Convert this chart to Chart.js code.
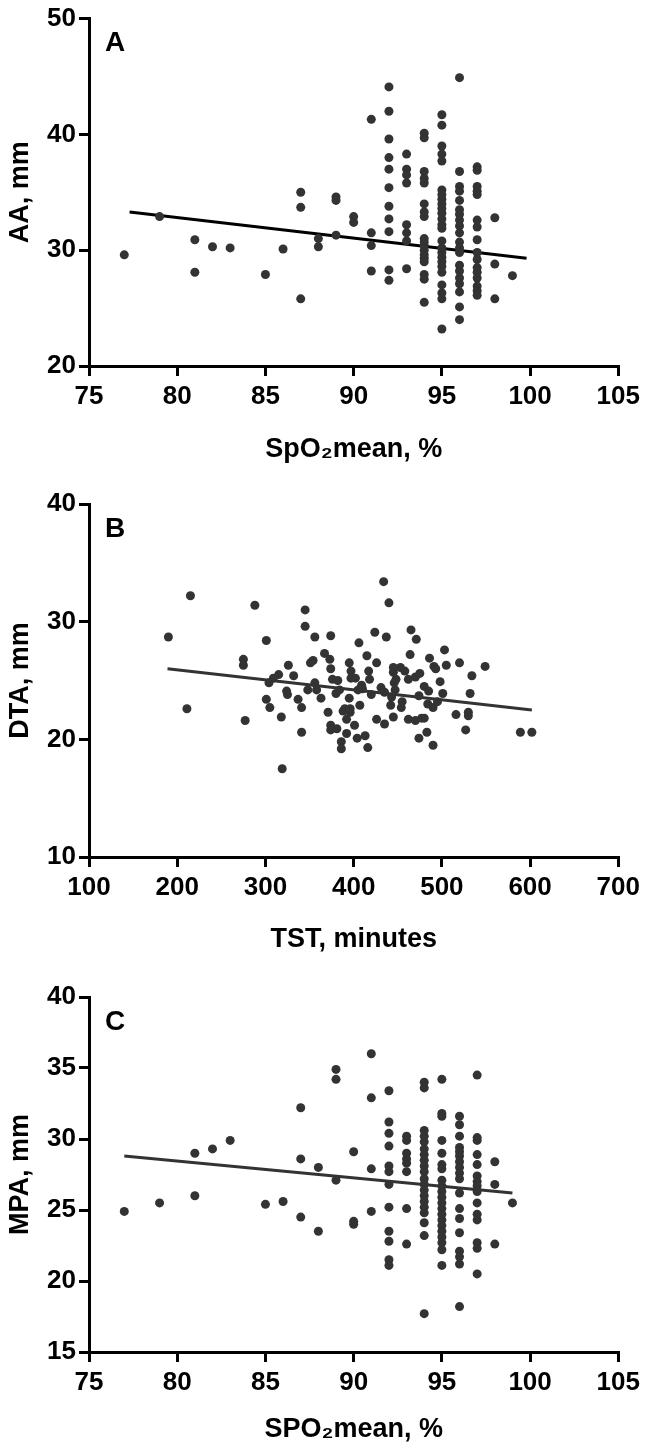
<!DOCTYPE html>
<html>
<head>
<meta charset="utf-8">
<script src="https://cdn.jsdelivr.net/npm/chart.js@4"></script>
<style>
  body { margin: 0; background: #fff; }
  .panel { position: absolute; left: 0; width: 645px; }
</style>
</head>
<body>
<div class="panel" style="top:0;height:470px"><canvas id="chartA"></canvas></div>
<div class="panel" style="top:470px;height:490px"><canvas id="chartB"></canvas></div>
<div class="panel" style="top:960px;height:490px"><canvas id="chartC"></canvas></div>
<script>
// Panel A: AA vs SpO2mean, grouped by integer SpO2 column
const aCols = [77, 79, 81, 82, 83, 85, 86, 87, 88, 89, 90, 91, 92, 93, 94, 95, 96, 97, 98, 99];
const aVals = [
    [29.6], [32.9], [30.9, 28.1], [30.3], [30.2], [27.9], [30.1],
    [35.0, 33.7, 25.8], [31.0, 30.3], [34.6, 34.3, 31.3], [32.9, 32.4],
    [41.3, 31.5, 30.4, 28.2],
    [44.1, 42.0, 39.6, 38.0, 37.0, 35.4, 33.8, 32.7, 31.6, 28.3, 27.4],
    [38.3, 37.0, 36.5, 35.8, 32.2, 31.5, 30.8, 28.4],
    [40.1, 39.7, 36.8, 36.2, 35.8, 34.0, 33.3, 32.9, 31.0, 30.7, 30.4, 30.0, 29.6, 29.3, 29.0, 27.9, 27.5, 25.5],
    [41.7, 40.8, 39.0, 38.3, 37.7, 35.2, 34.8, 34.4, 34.0, 33.6, 33.2, 32.7, 32.2, 31.9, 30.8, 30.2, 29.8, 29.4, 29.0, 28.6, 28.1, 27.0, 26.3, 25.8, 23.2],
    [44.9, 36.8, 35.5, 35.1, 34.3, 33.5, 33.1, 32.6, 32.1, 31.5, 30.7, 30.2, 29.8, 28.7, 28.2, 27.6, 27.1, 26.4, 25.1, 24.0],
    [37.2, 36.9, 35.5, 35.1, 34.8, 32.6, 32.0, 30.9, 29.8, 29.2, 28.5, 28.1, 27.6, 26.9, 26.5, 26.1],
    [32.8, 28.8, 25.8], [27.8]
];
const aFitX = [77.3, 99.8];
const aFitY = [33.3, 29.3];

// Panel B: DTA vs TST
const bX = [190, 215, 211, 288, 275, 275, 277, 301, 301, 305, 304, 309, 315, 318, 319, 326, 324, 325, 332, 337,
    341, 341, 345, 345, 348, 351, 354, 356, 356, 358, 363, 367, 371, 373, 374, 374, 374, 374, 376, 381,
    382, 380, 384, 386, 386, 388, 390, 392, 392, 395, 395, 397, 397, 396, 396, 402, 401, 404, 405, 406,
    407, 409, 410, 413, 415, 416, 417, 418, 420, 424, 426, 426, 431, 434, 437, 435, 435, 440, 442, 443,
    445, 445, 446, 447, 445, 448, 453, 454, 455, 458, 462, 462, 464, 465, 471, 470, 475, 474, 474, 470,
    477, 480, 480, 483, 485, 484, 486, 490, 490, 491, 493, 495, 498, 501, 503, 505, 516, 520, 527, 530,
    530, 532, 534, 549, 589, 602];
const bY = [28.7, 32.2, 22.6, 31.4, 26.8, 26.3, 21.6, 28.4, 23.4, 22.7, 24.8, 25.2, 25.5, 21.9, 17.5, 26.3, 24.1, 23.8, 25.4, 23.4,
    22.7, 20.6, 31.0, 29.6, 24.2, 26.5, 26.7, 28.7, 24.8, 24.2, 23.5, 27.3, 22.3, 26.8, 28.8, 26.0, 21.2, 20.8, 25.1, 20.9,
    25.0, 23.9, 24.2, 19.8, 19.2, 22.4, 22.6, 21.7, 20.5, 26.5, 23.5, 25.8, 25.2, 22.6, 22.3, 25.2, 21.2, 20.1, 24.2, 28.2,
    22.9, 24.6, 24.3, 20.3, 27.1, 19.3, 25.8, 25.1, 23.8, 29.1, 26.5, 21.7, 24.4, 33.4, 28.7, 21.3, 24.0, 31.6, 22.9, 23.6,
    25.7, 26.1, 24.8, 24.2, 21.9, 25.1, 26.1, 22.7, 23.2, 25.8, 25.1, 21.7, 27.2, 29.3, 28.5, 25.3, 25.6, 23.7, 20.1, 21.6,
    21.8, 21.8, 24.5, 20.6, 24.1, 23.0, 26.9, 19.5, 22.7, 26.2, 26.0, 23.2, 24.9, 23.9, 27.6, 26.3, 22.1, 26.5, 20.8, 22.3,
    22.0, 23.9, 25.4, 26.2, 20.6, 20.6];
const bFitX = [189, 602];
const bFitY = [26.0, 22.5];

// Panel C: MPA vs SpO2mean
const cCols = [77, 79, 81, 82, 83, 85, 86, 87, 88, 89, 90, 91, 92, 93, 94, 95, 96, 97, 98, 99];
const cVals = [
    [24.9], [25.5], [29.0, 26.0], [29.3], [29.9], [25.4], [25.6],
    [32.2, 28.6, 24.5], [28.0, 23.5], [34.9, 34.2, 27.1], [29.1, 24.2, 24.0],
    [36.0, 32.9, 27.9, 24.9],
    [33.4, 31.2, 30.4, 29.5, 28.1, 27.7, 26.8, 25.2, 23.5, 22.8, 21.5, 21.1],
    [30.2, 29.9, 29.0, 28.6, 28.3, 27.7, 25.1, 22.6],
    [34.0, 33.6, 30.6, 30.2, 29.8, 29.3, 28.9, 28.5, 28.1, 27.7, 27.2, 26.8, 26.4, 26.0, 25.6, 25.2, 24.8, 24.1, 23.2, 17.7],
    [34.2, 31.8, 31.6, 29.9, 29.0, 28.2, 27.9, 27.1, 26.7, 26.3, 25.9, 25.5, 25.1, 24.7, 24.3, 23.9, 23.5, 23.1, 22.7, 22.2, 21.1],
    [31.6, 31.0, 30.2, 29.4, 29.1, 28.8, 28.4, 28.0, 27.6, 27.2, 26.2, 25.1, 24.4, 23.4, 22.1, 21.7, 21.2, 18.2],
    [34.5, 30.1, 29.9, 28.9, 28.2, 27.4, 27.0, 26.7, 26.3, 25.5, 24.7, 24.3, 22.7, 22.3, 20.5],
    [28.4, 26.8, 22.6], [25.5]
];
const cFitX = [77, 99];
const cFitY = [28.8, 26.2];

const FONT = 'Liberation Sans, Arial, sans-serif';

function colsToPoints(cols, vals) {
    const pts = [];
    cols.forEach((x, i) => vals[i].forEach(y => pts.push({ x: x, y: y })));
    return pts;
}

function pairsToPoints(xs, ys) {
    return xs.map((x, i) => ({ x: x, y: ys[i] }));
}

const panelLetter = {
    id: 'panelLetter',
    afterDraw(chart, args, opts) {
        const ctx = chart.ctx;
        ctx.save();
        ctx.fillStyle = '#000';
        ctx.font = 'bold 28px ' + FONT;
        ctx.textBaseline = 'top';
        ctx.fillText(opts.text, chart.chartArea.left + 16, chart.chartArea.top + 11);
        ctx.restore();
    }
};

function makeChart(id, cfg) {
    const axisCommon = {
        border: { color: '#000', width: 3 },
        grid: { drawOnChartArea: false, drawTicks: true, tickLength: 10, color: '#000', lineWidth: 3 },
        ticks: { color: '#000', font: { family: FONT, size: 26, weight: 'bold' }, padding: 3 }
    };
    new Chart(document.getElementById(id), {
        type: 'scatter',
        data: {
            datasets: [{
                data: cfg.points,
                pointRadius: 4.5,
                pointBackgroundColor: '#333',
                pointBorderWidth: 0
            }, {
                type: 'line',
                data: cfg.fit,
                borderColor: cfg.lineColor,
                borderWidth: 3,
                pointRadius: 0,
                fill: false
            }]
        },
        options: {
            responsive: true,
            maintainAspectRatio: false,
            animation: false,
            layout: { padding: { top: cfg.padTop, right: 23, left: 0, bottom: 0 } },
            plugins: {
                legend: { display: false },
                tooltip: { enabled: false },
                panelLetter: { text: cfg.letter }
            },
            scales: {
                x: {
                    ...axisCommon,
                    type: 'linear',
                    min: cfg.xMin, max: cfg.xMax,
                    ticks: { ...axisCommon.ticks, stepSize: cfg.xStep, padding: 5 },
                    title: { display: true, text: cfg.xTitle, color: '#000', font: { family: FONT, size: 27, weight: 'bold' }, padding: { top: 6 } },
                    afterFit: s => { s.height = cfg.xHeight; }
                },
                y: {
                    ...axisCommon,
                    min: cfg.yMin, max: cfg.yMax,
                    ticks: { ...axisCommon.ticks, stepSize: cfg.yStep },
                    title: { display: true, text: cfg.yTitle, color: '#000', font: { family: FONT, size: 27, weight: 'bold' }, padding: { bottom: 2 } },
                    afterFit: s => { s.width = 89; }
                }
            }
        },
        plugins: [panelLetter]
    });
}

makeChart('chartA', {
    points: colsToPoints(aCols, aVals), fit: pairsToPoints(aFitX, aFitY), lineColor: '#000',
    letter: 'A', padTop: 10, xHeight: 104,
    xMin: 75, xMax: 105, xStep: 5, yMin: 20, yMax: 50, yStep: 10,
    xTitle: 'SpO₂mean, %', yTitle: 'AA, mm'
});
makeChart('chartB', {
    points: pairsToPoints(bX, bY), fit: pairsToPoints(bFitX, bFitY), lineColor: '#333',
    letter: 'B', padTop: 34, xHeight: 103,
    xMin: 100, xMax: 700, xStep: 100, yMin: 10, yMax: 40, yStep: 10,
    xTitle: 'TST, minutes', yTitle: 'DTA, mm'
});
makeChart('chartC', {
    points: colsToPoints(cCols, cVals), fit: pairsToPoints(cFitX, cFitY), lineColor: '#333',
    letter: 'C', padTop: 37, xHeight: 98,
    xMin: 75, xMax: 105, xStep: 5, yMin: 15, yMax: 40, yStep: 5,
    xTitle: 'SPO₂mean, %', yTitle: 'MPA, mm'
});
</script>
</body>
</html>
